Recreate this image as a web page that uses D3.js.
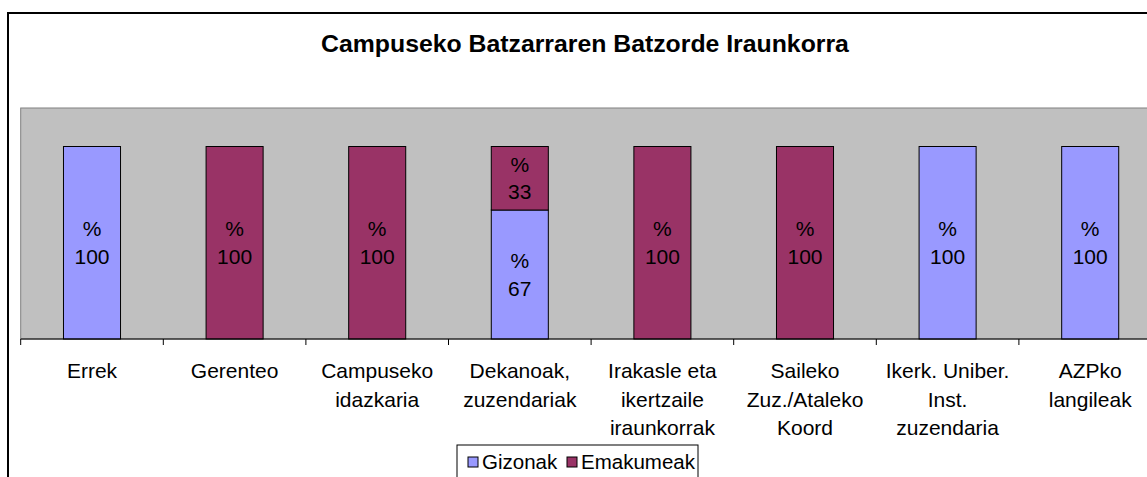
<!DOCTYPE html>
<html>
<head>
<meta charset="utf-8">
<script src="https://cdn.jsdelivr.net/npm/d3@7"></script>
<style>
  body { margin: 0; background: #fff; }
  text { font-family: "Liberation Sans", Arial, sans-serif; fill: #000; }
</style>
</head>
<body>
<div id="chart"></div>
<script>
var TITLE = "Campuseko Batzarraren Batzorde Iraunkorra";
var categories = [
  ["Errek"],
  ["Gerenteo"],
  ["Campuseko", "idazkaria"],
  ["Dekanoak,", "zuzendariak"],
  ["Irakasle eta", "ikertzaile", "iraunkorrak"],
  ["Saileko", "Zuz./Ataleko", "Koord"],
  ["Ikerk. Uniber.", "Inst.", "zuzendaria"],
  ["AZPko", "langileak"]
];
var seriesNames = ["Gizonak", "Emakumeak"];
var gizonak   = [100, 0, 0, 67, 0, 0, 100, 100];
var emakumeak = [0, 100, 100, 33, 100, 100, 0, 0];

var GIZON_COLOR = "#9999FF";
var EMAKUME_COLOR = "#993366";
var PLOT_BG = "#C0C0C0";

var width = 1147, height = 477;
var svg = d3.select("#chart").append("svg")
  .attr("width", width).attr("height", height);

// outer chart border
svg.append("rect")
  .attr("x", 8).attr("y", 13)
  .attr("width", 1160).attr("height", 480)
  .attr("fill", "#fff").attr("stroke", "#000").attr("stroke-width", 2);

svg.append("text")
  .attr("x", 585).attr("y", 52)
  .attr("text-anchor", "middle")
  .style("font-size", "24.8px").style("font-weight", "bold")
  .text(TITLE);

var plot = { left: 20.7, right: 1161.5, top: 108, bottom: 339 };

var x = d3.scaleBand()
  .domain(d3.range(categories.length))
  .range([plot.left, plot.right])
  .paddingInner(0.6).paddingOuter(0.3);

var y = d3.scaleLinear().domain([0, 120]).range([plot.bottom, plot.top]);

svg.append("rect")
  .attr("x", plot.left).attr("y", plot.top)
  .attr("width", plot.right - plot.left).attr("height", plot.bottom - plot.top)
  .attr("fill", PLOT_BG).attr("stroke", "#808080").attr("stroke-width", 1);

var rows = categories.map(function(c, i){
  return { i: i, Gizonak: gizonak[i], Emakumeak: emakumeak[i] };
});
var stacked = d3.stack().keys(seriesNames)(rows);
var colors = { Gizonak: GIZON_COLOR, Emakumeak: EMAKUME_COLOR };

stacked.forEach(function(layer){
  var g = svg.append("g");
  var segs = layer.filter(function(d){ return d[1] - d[0] > 0; });
  g.selectAll("rect").data(segs).enter().append("rect")
    .attr("x", function(d){ return x(d.data.i); })
    .attr("y", function(d){ return y(d[1]); })
    .attr("width", x.bandwidth())
    .attr("height", function(d){ return y(d[0]) - y(d[1]); })
    .attr("fill", colors[layer.key])
    .attr("stroke", "#000").attr("stroke-width", 1);

  var lab = g.selectAll("text").data(segs).enter().append("text")
    .attr("text-anchor", "middle")
    .style("font-size", "21px");
  lab.append("tspan")
    .attr("x", function(d){ return x(d.data.i) + x.bandwidth() / 2; })
    .attr("y", function(d){ return (y(d[0]) + y(d[1])) / 2 - 6.5; })
    .text("%");
  lab.append("tspan")
    .attr("x", function(d){ return x(d.data.i) + x.bandwidth() / 2; })
    .attr("y", function(d){ return (y(d[0]) + y(d[1])) / 2 + 21; })
    .text(function(d){ return d[1] - d[0]; });
});

// category axis
svg.append("line")
  .attr("x1", plot.left).attr("x2", plot.right)
  .attr("y1", plot.bottom).attr("y2", plot.bottom)
  .attr("stroke", "#000").attr("stroke-width", 1);

svg.selectAll("line.tick").data(d3.range(categories.length + 1)).enter().append("line")
  .attr("class", "tick")
  .attr("x1", function(i){ return plot.left + i * x.step(); })
  .attr("x2", function(i){ return plot.left + i * x.step(); })
  .attr("y1", plot.bottom).attr("y2", plot.bottom + 6)
  .attr("stroke", "#000").attr("stroke-width", 1);

var cat = svg.selectAll("text.cat").data(categories).enter().append("text")
  .attr("class", "cat")
  .attr("text-anchor", "middle")
  .style("font-size", "21px");
cat.selectAll("tspan").data(function(d, i){
    return d.map(function(line, k){ return { line: line, k: k, i: i }; });
  }).enter().append("tspan")
  .attr("x", function(d){ return x(d.i) + x.bandwidth() / 2; })
  .attr("y", function(d){ return 378 + d.k * 28.5; })
  .text(function(d){ return d.line; });

// legend
var legend = svg.append("g");
legend.append("rect")
  .attr("x", 457).attr("y", 445).attr("width", 241).attr("height", 50)
  .attr("fill", "#fff").attr("stroke", "#000").attr("stroke-width", 1);
var legX = [468, 567];
seriesNames.forEach(function(name, k){
  legend.append("rect")
    .attr("x", legX[k]).attr("y", 457).attr("width", 10).attr("height", 10)
    .attr("fill", colors[name]).attr("stroke", "#000").attr("stroke-width", 1);
  legend.append("text")
    .attr("x", legX[k] + 14).attr("y", 469)
    .style("font-size", "20.5px")
    .text(name);
});
</script>
</body>
</html>
